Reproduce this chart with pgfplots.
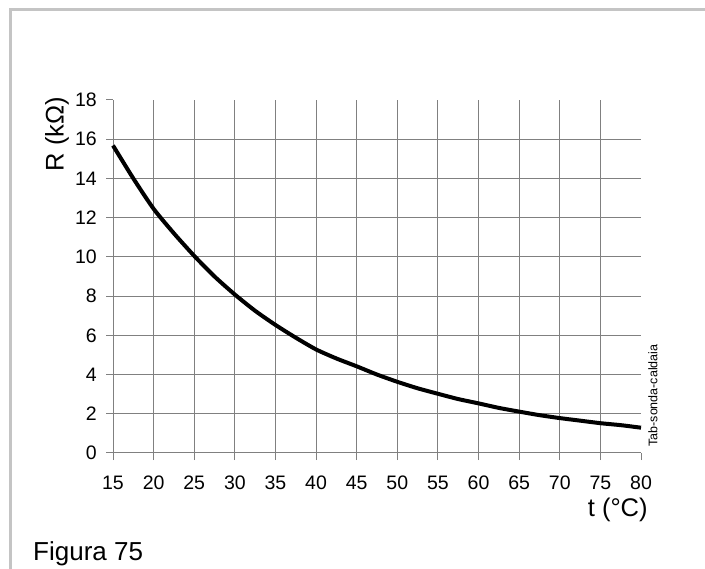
\documentclass[border=0pt]{standalone}
\usepackage{fontspec}
\setmainfont{Liberation Sans}
\usepackage{pgfplots}
\pgfplotsset{compat=1.18}
\definecolor{gridgray}{RGB}{128,128,128}
\definecolor{framegray}{RGB}{196,196,196}
\begin{document}
\begin{tikzpicture}
\path[use as bounding box] (0,0) rectangle (705bp,569bp);
\draw[framegray, line width=3bp] (705bp,559bp) -- (10bp,559bp) -- (10bp,0bp);
\begin{axis}[
  at={(113bp,116bp)}, anchor=south west,
  scale only axis, width=528bp, height=353bp,
  xmin=15, xmax=80, ymin=0, ymax=18,
  axis lines=left, axis line style={-, gridgray, line width=1bp},
  xtick={15,20,...,75}, extra x ticks={80}, extra x tick style={grid=none},
  ytick={0,2,...,16}, extra y ticks={18}, extra y tick style={grid=none},
  grid=major, major grid style={gridgray, line width=1bp},
  tick align=outside, major tick length=7bp, tick style={gridgray, line width=1bp},
  /pgf/number format/assume math mode=true,
  ticklabel style={font=\fontsize{19.5bp}{23bp}\selectfont, inner sep=0pt},
  xticklabel style={anchor=north, yshift=-16bp},
  yticklabel style={anchor=east, xshift=-9bp},
  label style={font=\fontsize{25.5bp}{30bp}\selectfont},
  xlabel={t (°C)},
  ylabel={R (kΩ)},
  xlabel style={at={(axis description cs:0.956,-0.1615)}, anchor=center},
  ylabel style={at={(axis description cs:-0.106,0.904)}, anchor=center},
  clip=false,
]
\addplot[black, line width=4bp, line join=round, smooth, tension=0.4] coordinates {
(15,15.68) (17.5,14.0) (20,12.45) (22.5,11.2) (25,10.05) (27.5,9.0) (30,8.08) (32.5,7.25) (35,6.53) (37.5,5.88)
(40,5.28) (42.5,4.82) (45,4.42) (47.5,4.0) (50,3.63) (52.5,3.3) (55,3.02) (57.5,2.75) (60,2.53) (62.5,2.3)
(65,2.11) (67.5,1.93) (70,1.78) (72.5,1.65) (75,1.52) (77.5,1.42) (80,1.29)
};
\end{axis}
\node[rotate=90, font=\fontsize{12.5bp}{15bp}\selectfont, anchor=center] at (653bp,173.5bp) {Tab-sonda-caldaia};
\node[anchor=base west, font=\fontsize{26bp}{31bp}\selectfont, inner sep=0pt] at (33bp,9bp) {Figura 75};
\end{tikzpicture}
\end{document}
